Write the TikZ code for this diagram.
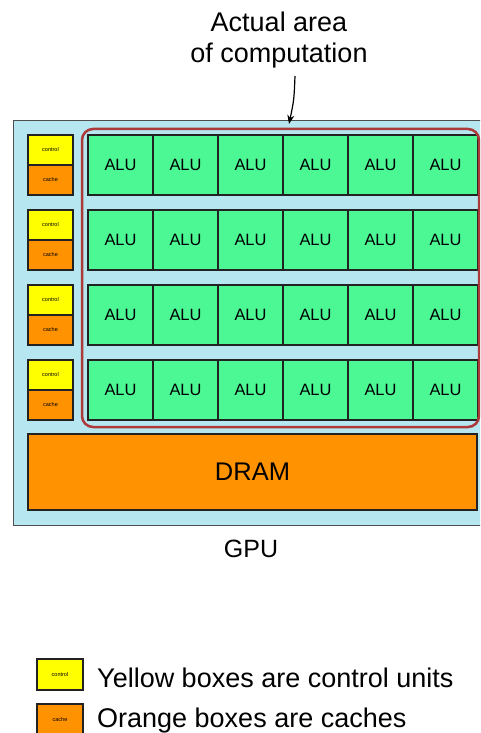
\documentclass[tikz,border=0pt]{standalone}
\usepackage{fontspec}
\setmainfont{Liberation Sans}
\usetikzlibrary{arrows.meta}
\definecolor{gpublue}{RGB}{182,230,240}
\definecolor{alugreen}{RGB}{76,248,148}
\definecolor{cacheorange}{RGB}{255,146,0}
\definecolor{ctrlyellow}{RGB}{255,255,0}
\definecolor{areared}{RGB}{172,58,58}
\definecolor{edge}{RGB}{34,34,34}
\tikzset{
  cell/.style={draw=edge, line width=1.2pt, inner sep=0pt, outer sep=0pt, anchor=north west},
  alubox/.style={cell, fill=alugreen, minimum width=65pt, minimum height=60pt, font=\fontsize{16.4}{18}\selectfont},
  ctrlbox/.style={cell, fill=ctrlyellow, minimum width=45pt, minimum height=30pt, font=\fontsize{5.5}{6}\selectfont},
  cachebox/.style={cell, fill=cacheorange, minimum width=45pt, minimum height=30pt, font=\fontsize{5.5}{6}\selectfont},
  bigtext/.style={font=\fontsize{27}{30}\selectfont, inner sep=0pt},
}
\begin{document}
\begin{tikzpicture}[x=1pt,y=-1pt]
\clip (0,0) rectangle (480,733);
\fill[white] (0,0) rectangle (480,733);
% GPU box
\node[draw=edge!80, line width=1pt, fill=gpublue, inner sep=0pt, anchor=north west,
      minimum width=490pt, minimum height=405pt] (gpu) at (13,120) {};
% control / cache units and ALUs
\foreach \j in {0,1,2,3}{
  \node[ctrlbox] (ctrl\j) at (28,{135+75*\j}) {control};
  \node[cachebox] (cache\j) at (28,{165+75*\j}) {cache};
  \foreach \i in {0,...,5}{
    \node[alubox] (alu\j\i) at ({88+65*\i},{135+75*\j}) {ALU};
  }
}
% area of computation
\draw[areared, line width=2.5pt, rounded corners=11pt] (82,129) rectangle (479,427);
% DRAM
\node[cell, fill=cacheorange, minimum width=449pt, minimum height=76pt,
      font=\fontsize{25.5}{28}\selectfont] (dram) at (28,434) {DRAM};
% labels
\node[font=\fontsize{25}{28}\selectfont, inner sep=0pt, anchor=base] (gpulbl) at (251,557) {GPU};
\node[bigtext, anchor=base] (lbl1) at (279,32) {Actual area};
\node[bigtext, anchor=base] (lbl) at (279,62.5) {of computation};
\coordinate (start) at (295,76);
\coordinate (tip) at (289,124);
\draw[line width=1.2pt, -{Stealth[length=9pt,width=7pt]}] (start) .. controls (294,100) .. (tip);
% legend
\node[ctrlbox, minimum width=46pt, minimum height=31pt, line width=1.4pt] (legctrl) at (37,659) {control};
\node[cachebox, minimum width=46pt, minimum height=31pt, line width=1.4pt] (legcache) at (37,704) {cache};
\node[bigtext, anchor=base west] (legt1) at (97,687) {Yellow boxes are control units};
\node[bigtext, anchor=base west] (legt2) at (97,727) {Orange boxes are caches};
\end{tikzpicture}
\end{document}
